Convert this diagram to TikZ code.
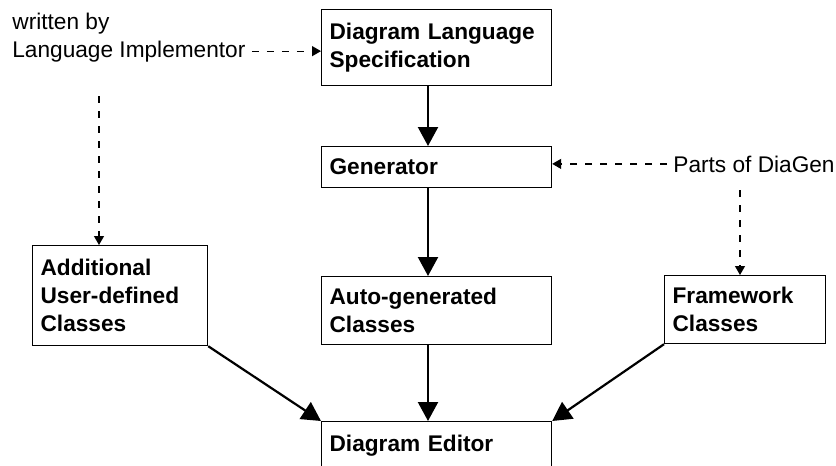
\documentclass[tikz,border=0pt]{standalone}
\usepackage{fontspec}
\setmainfont{Liberation Sans}
\usetikzlibrary{arrows.meta}

\begin{document}
\begin{tikzpicture}[x=0.5pt,y=-0.5pt,
  every node/.style={font=\fontsize{11.33pt}{14pt}\selectfont},
  box/.style={draw,line width=0.6pt,anchor=north west,inner xsep=4pt,inner ysep=0pt,
    align=left,font=\fontsize{11.33pt}{14pt}\selectfont\bfseries},
  label/.style={anchor=base west,inner sep=3pt},
  flow/.style={line width=1.1pt,-{Triangle[length=9.5pt,width=10pt]}},
  dasharrow/.style={line width=0.6pt,dash pattern=on 3.5pt off 4pt,-{Triangle[length=4.5pt,width=5pt]}}]
\useasboundingbox (0,0) rectangle (836,466);
\clip (0,0) rectangle (836,466);

\node[box,text width=107pt,minimum height=38pt] (spec) at (321,9) {Diagram Language\\Specification};
\node[box,text width=107pt,minimum height=20.5pt] (gen) at (321,146) {Generator};
\node[box,text width=79.5pt,minimum height=50pt] (addl) at (32,245) {Additional\\User-defined\\Classes};
\node[box,text width=107pt,minimum height=34pt] (auto) at (321,276) {Auto-generated\\Classes};
\node[box,text width=72.5pt,minimum height=34pt] (frame) at (664,275) {Framework\\Classes};
\node[box,text width=107pt,minimum height=24pt] (editor) at (321,421) {Diagram Editor};

\node[label] (written) at (6,29) {written by};
\node[label] (impl) at (6,57) {Language Implementor};
\node[label] (parts) at (667,172) {Parts of DiaGen};

\coordinate (axis) at (428,0);
\coordinate (wd) at (99,96);
\coordinate (pd) at (740,190);

\draw[flow] (spec.south -| axis) -- (gen.north -| axis);
\draw[flow] (gen.south -| axis) -- (auto.north -| axis);
\draw[flow] (auto.south -| axis) -- (editor.north -| axis);
\draw[flow] (addl.south east) -- (editor.north west);
\draw[flow] (frame.south west) -- (editor.north east);

\draw[dasharrow] (impl.east) -- (impl.east -| spec.west);
\draw[dasharrow] (wd) -- (wd |- addl.north);
\draw[dasharrow] (parts.west) -- (parts.west -| gen.east);
\draw[dasharrow] (pd) -- (pd |- frame.north);
\end{tikzpicture}
\end{document}
